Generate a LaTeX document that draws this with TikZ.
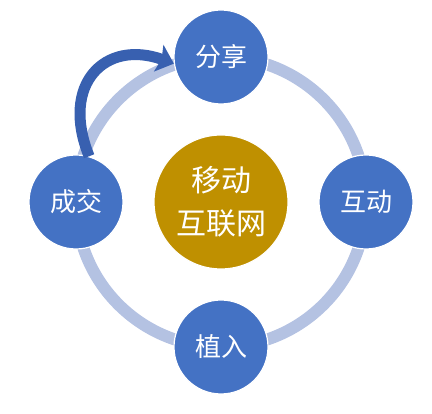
\documentclass[tikz,border=0pt]{standalone}
\usepackage{fontspec}
\newfontfamily\cjk{Noto Sans CJK SC}
\usetikzlibrary{arrows.meta}
\definecolor{hubblue}{RGB}{68,114,196}
\definecolor{ringblue}{RGB}{180,194,226}
\definecolor{coregold}{RGB}{191,144,0}
\definecolor{flowblue}{RGB}{56,96,176}
\tikzset{
  hub/.style={circle,fill=hubblue,draw=white,line width=1.2pt,minimum size=94pt,
    inner sep=0pt,text=white,font=\cjk\fontsize{26}{30}\selectfont},
  core/.style={circle,fill=coregold,draw=white,line width=1.2pt,minimum size=134pt,
    inner sep=0pt,text=white,align=center,font=\cjk\fontsize{30}{43}\selectfont},
  flow/.style={flowblue,line width=11pt,-{Stealth[length=16pt,width=28pt,inset=3pt]}}
}
\begin{document}
\begin{tikzpicture}[x=1pt,y=1pt]
  \useasboundingbox (0,0) rectangle (432,414);
  \draw[ringblue,line width=12pt] (221,212) circle (145);
  \node[core] (mobile) at (221,212) {移动\\互联网};
  \node[hub] (share) at (221,357) {分享};
  \node[hub] (interact) at (366,212) {互动};
  \node[hub] (implant) at (221,67) {植入};
  \node[hub] (deal) at (76,212) {成交};
  % curved arrow from deal back to share
  \draw[flow] (deal.74) .. controls (60,330) and (105,375) .. (share.188);
\end{tikzpicture}
\end{document}
